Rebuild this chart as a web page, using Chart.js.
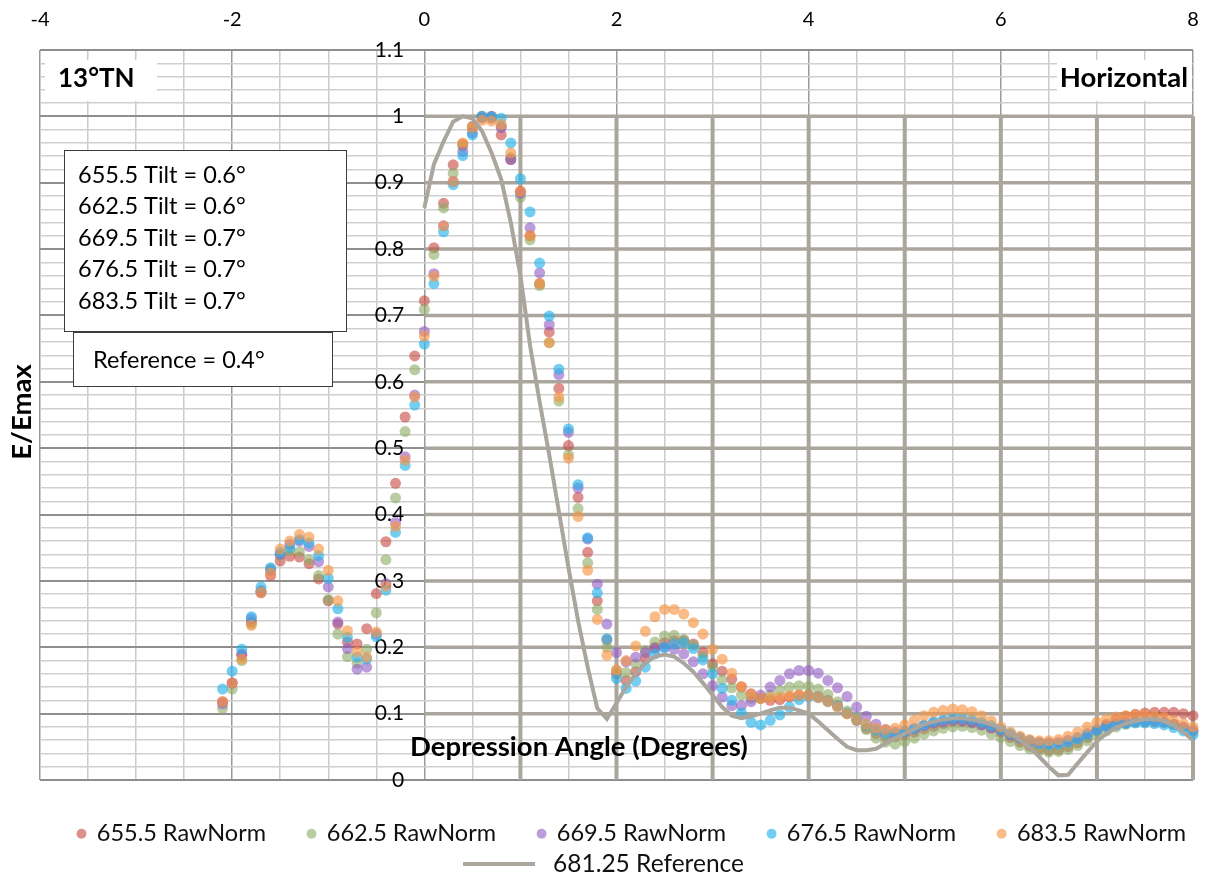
<!DOCTYPE html>
<html>
<head>
<meta charset="utf-8">
<title>13°TN Horizontal - E/Emax vs Depression Angle</title>
<script src="https://cdn.jsdelivr.net/npm/chart.js@4/dist/chart.umd.min.js"></script>
<style>
  html, body { margin: 0; padding: 0; background: #fff; }
</style>
</head>
<body>
<canvas id="chart" width="1208" height="878"></canvas>
<script>
// depression angles (degrees) of the measured points
const angles = [
  -2.1, -2.0, -1.9, -1.8, -1.7, -1.6, -1.5, -1.4, -1.3, -1.2, -1.1, -1.0, -0.9, -0.8, -0.7, -0.6, -0.5, -0.4, -0.3, -0.2, -0.1,
  0.0, 0.1, 0.2, 0.3, 0.4, 0.5, 0.6, 0.7, 0.8, 0.9,
  1.0, 1.1, 1.2, 1.3, 1.4, 1.5, 1.6, 1.7, 1.8, 1.9,
  2.0, 2.1, 2.2, 2.3, 2.4, 2.5, 2.6, 2.7, 2.8, 2.9,
  3.0, 3.1, 3.2, 3.3, 3.4, 3.5, 3.6, 3.7, 3.8, 3.9,
  4.0, 4.1, 4.2, 4.3, 4.4, 4.5, 4.6, 4.7, 4.8, 4.9,
  5.0, 5.1, 5.2, 5.3, 5.4, 5.5, 5.6, 5.7, 5.8, 5.9,
  6.0, 6.1, 6.2, 6.3, 6.4, 6.5, 6.6, 6.7, 6.8, 6.9,
  7.0, 7.1, 7.2, 7.3, 7.4, 7.5, 7.6, 7.7, 7.8, 7.9,
  8.0
];

const raw655 = [
  0.118, 0.146, 0.188, 0.238, 0.282, 0.308, 0.330, 0.337, 0.336, 0.326, 0.303, 0.270, 0.235, 0.208, 0.205, 0.228, 0.281, 0.359, 0.447, 0.547, 0.639,
  0.722, 0.802, 0.869, 0.927, 0.958, 0.985, 1.000, 0.997, 0.972, 0.935,
  0.887, 0.820, 0.748, 0.675, 0.590, 0.504, 0.426, 0.343, 0.270, 0.211,
  0.160, 0.150, 0.163, 0.183, 0.200, 0.207, 0.210, 0.210, 0.205, 0.192,
  0.175, 0.164, 0.152, 0.140, 0.130, 0.123, 0.120, 0.121, 0.125, 0.128,
  0.128, 0.126, 0.120, 0.112, 0.100, 0.090, 0.078, 0.070, 0.065, 0.065,
  0.068, 0.072, 0.077, 0.081, 0.085, 0.088, 0.088, 0.086, 0.083, 0.078,
  0.072, 0.064, 0.057, 0.051, 0.047, 0.045, 0.046, 0.050, 0.056, 0.064,
  0.074, 0.084, 0.091, 0.096, 0.099, 0.101, 0.102, 0.102, 0.102, 0.100,
  0.097
];

const raw662 = [
  0.108, 0.137, 0.180, 0.235, 0.284, 0.318, 0.338, 0.346, 0.344, 0.332, 0.308, 0.272, 0.220, 0.186, 0.176, 0.197, 0.252, 0.332, 0.425, 0.525, 0.618,
  0.709, 0.792, 0.862, 0.914, 0.955, 0.982, 0.998, 1.000, 0.985, 0.938,
  0.878, 0.814, 0.745, 0.659, 0.571, 0.490, 0.409, 0.327, 0.257, 0.200,
  0.165, 0.162, 0.175, 0.195, 0.208, 0.217, 0.218, 0.212, 0.203, 0.186,
  0.170, 0.151, 0.139, 0.128, 0.123, 0.123, 0.128, 0.135, 0.140, 0.142,
  0.141, 0.137, 0.129, 0.118, 0.104, 0.090, 0.076, 0.063, 0.057, 0.054,
  0.058, 0.063, 0.069, 0.074, 0.078, 0.080, 0.081, 0.079, 0.075, 0.069,
  0.064, 0.058, 0.052, 0.047, 0.044, 0.042, 0.043, 0.046, 0.052, 0.059,
  0.067, 0.074, 0.080, 0.084, 0.087, 0.088, 0.089, 0.087, 0.084, 0.079,
  0.073
];

const raw669 = [
  0.115, 0.146, 0.190, 0.243, 0.285, 0.316, 0.340, 0.355, 0.360, 0.352, 0.329, 0.291, 0.238, 0.198, 0.167, 0.170, 0.220, 0.296, 0.388, 0.487, 0.580,
  0.676, 0.763, 0.835, 0.902, 0.947, 0.975, 0.998, 1.000, 0.983, 0.935,
  0.884, 0.832, 0.764, 0.686, 0.611, 0.524, 0.440, 0.363, 0.295, 0.235,
  0.192, 0.178, 0.185, 0.192, 0.198, 0.200, 0.197, 0.190, 0.178, 0.160,
  0.142, 0.125, 0.112, 0.112, 0.118, 0.128, 0.140, 0.150, 0.160, 0.165,
  0.165, 0.161, 0.150, 0.139, 0.126, 0.110, 0.096, 0.084, 0.076, 0.072,
  0.073, 0.077, 0.082, 0.086, 0.088, 0.090, 0.089, 0.087, 0.083, 0.079,
  0.075, 0.068, 0.063, 0.059, 0.057, 0.056, 0.057, 0.060, 0.064, 0.070,
  0.076, 0.081, 0.084, 0.086, 0.088, 0.088, 0.088, 0.087, 0.084, 0.080,
  0.075
];

const raw676 = [
  0.137, 0.164, 0.197, 0.246, 0.291, 0.320, 0.343, 0.350, 0.362, 0.357, 0.338, 0.304, 0.258, 0.215, 0.185, 0.182, 0.216, 0.286, 0.373, 0.474, 0.565,
  0.657, 0.748, 0.826, 0.897, 0.941, 0.972, 1.000, 0.999, 0.997, 0.960,
  0.906, 0.856, 0.779, 0.699, 0.619, 0.529, 0.445, 0.365, 0.282, 0.213,
  0.153, 0.138, 0.149, 0.170, 0.190, 0.200, 0.205, 0.207, 0.198, 0.181,
  0.160, 0.138, 0.120, 0.101, 0.087, 0.083, 0.090, 0.098, 0.110, 0.121,
  0.126, 0.124, 0.118, 0.111, 0.101, 0.093, 0.083, 0.075, 0.070, 0.070,
  0.073, 0.078, 0.083, 0.088, 0.091, 0.093, 0.093, 0.091, 0.087, 0.082,
  0.076, 0.070, 0.064, 0.059, 0.055, 0.053, 0.054, 0.057, 0.062, 0.068,
  0.075, 0.080, 0.083, 0.085, 0.086, 0.086, 0.085, 0.083, 0.079, 0.074,
  0.068
];

const raw683 = [
  0.118, 0.146, 0.182, 0.233, 0.283, 0.312, 0.348, 0.360, 0.370, 0.366, 0.348, 0.316, 0.270, 0.225, 0.193, 0.185, 0.223, 0.292, 0.382, 0.482, 0.577,
  0.669, 0.759, 0.835, 0.902, 0.960, 0.983, 0.994, 0.993, 0.988, 0.945,
  0.887, 0.820, 0.748, 0.659, 0.577, 0.485, 0.397, 0.316, 0.242, 0.188,
  0.166, 0.180, 0.202, 0.224, 0.246, 0.257, 0.257, 0.250, 0.237, 0.220,
  0.197, 0.182, 0.161, 0.141, 0.128, 0.123, 0.124, 0.125, 0.127, 0.128,
  0.127, 0.124, 0.118, 0.110, 0.100, 0.092, 0.084, 0.078, 0.076, 0.078,
  0.083, 0.090, 0.097, 0.102, 0.105, 0.107, 0.106, 0.103, 0.097, 0.089,
  0.080, 0.072, 0.066, 0.061, 0.059, 0.059, 0.061, 0.066, 0.072, 0.080,
  0.087, 0.092, 0.095, 0.097, 0.098, 0.098, 0.096, 0.094, 0.090, 0.085,
  0.080
];

// reference curve, sampled from 0 to 8 degrees
const refAngles = [
  0.0, 0.1, 0.2, 0.3, 0.4, 0.5, 0.6, 0.7, 0.8, 0.9,
  1.0, 1.1, 1.2, 1.3, 1.4, 1.5, 1.6, 1.7, 1.8, 1.9,
  2.0, 2.1, 2.2, 2.3, 2.4, 2.5, 2.6, 2.7, 2.8, 2.9,
  3.0, 3.1, 3.2, 3.3, 3.4, 3.5, 3.6, 3.7, 3.8, 3.9,
  4.0, 4.1, 4.2, 4.3, 4.4, 4.5, 4.6, 4.7, 4.8, 4.9,
  5.0, 5.1, 5.2, 5.3, 5.4, 5.5, 5.6, 5.7, 5.8, 5.9,
  6.0, 6.1, 6.2, 6.3, 6.4, 6.5, 6.6, 6.7, 6.8, 6.9,
  7.0, 7.1, 7.2, 7.3, 7.4, 7.5, 7.6, 7.7, 7.8, 7.9,
  8.0
];
const ref681 = [
  0.862, 0.928, 0.962, 0.992, 1.000, 0.997, 0.978, 0.945, 0.905, 0.840,
  0.760, 0.655, 0.570, 0.490, 0.405, 0.320, 0.240, 0.170, 0.108, 0.092,
  0.116, 0.140, 0.160, 0.176, 0.186, 0.189, 0.186, 0.176, 0.163, 0.146,
  0.128, 0.110, 0.097, 0.093, 0.096, 0.100, 0.105, 0.109, 0.109, 0.105,
  0.100, 0.088, 0.075, 0.062, 0.050, 0.045, 0.045, 0.047, 0.055, 0.063,
  0.070, 0.077, 0.084, 0.088, 0.091, 0.093, 0.093, 0.091, 0.088, 0.084,
  0.079, 0.070, 0.060, 0.049, 0.035, 0.020, 0.007, 0.008, 0.025, 0.042,
  0.058, 0.070, 0.079, 0.085, 0.089, 0.092, 0.092, 0.089, 0.082, 0.072,
  0.060
];

const seriesNames = ['655.5 RawNorm', '662.5 RawNorm', '669.5 RawNorm', '676.5 RawNorm', '683.5 RawNorm'];
const refName = '681.25 Reference';
const tiltNotes = ['655.5 Tilt = 0.6°', '662.5 Tilt = 0.6°', '669.5 Tilt = 0.7°', '676.5 Tilt = 0.7°', '683.5 Tilt = 0.7°'];
const refNote = 'Reference = 0.4°';

const dotColors = [
  'rgba(200, 70, 65, 0.6)',
  'rgba(140, 170, 100, 0.6)',
  'rgba(145, 90, 195, 0.6)',
  'rgba(40, 180, 235, 0.65)',
  'rgba(247, 150, 70, 0.65)'
];
const refColor = '#aaa69d';
const FONT = 'Lato, "Noto Sans", sans-serif';

function pts(xs, ys) {
  return ys.map((v, i) => ({ x: xs[i], y: v }));
}

const rawSeries = [raw655, raw662, raw669, raw676, raw683];
const datasets = rawSeries.map((vals, i) => ({
  label: seriesNames[i],
  data: pts(angles, vals),
  backgroundColor: dotColors[i],
  borderWidth: 0,
  pointRadius: 5.5,
  pointHoverRadius: 5.5,
  pointStyle: 'circle',
  showLine: false,
  clip: false,
  order: 10 - i
}));
datasets.push({
  type: 'line',
  label: refName,
  data: pts(refAngles, ref681),
  borderColor: refColor,
  borderWidth: 4,
  pointRadius: 0,
  tension: 0,
  fill: false,
  order: 1
});

const near = (v, step) => Math.abs(v / step - Math.round(v / step)) < 1e-6;

// heavier grid lines over the main part of the plot
const heavyGrid = {
  id: 'heavyGrid',
  beforeDatasetsDraw(chart) {
    const { ctx, scales: { x, y } } = chart;
    ctx.save();
    ctx.strokeStyle = refColor;
    ctx.lineWidth = 3.5;
    for (let k = 1; k <= 10; k++) {
      const py = y.getPixelForValue(k / 10);
      ctx.beginPath();
      ctx.moveTo(x.getPixelForValue(0), py);
      ctx.lineTo(x.getPixelForValue(8), py);
      ctx.stroke();
    }
    ctx.lineWidth = 4;
    for (let k = 1; k <= 8; k++) {
      const px = x.getPixelForValue(k);
      ctx.beginPath();
      ctx.moveTo(px, y.getPixelForValue(1));
      ctx.lineTo(px, y.getPixelForValue(0));
      ctx.stroke();
    }
    ctx.restore();
  }
};

// fixed legend height, and keep the five dot entries on one row
const legendHeight = {
  id: 'legendHeight',
  beforeInit(chart) {
    const fit = chart.legend.fit;
    chart.legend.fit = function () {
      const mw = this.maxWidth;
      this.maxWidth = mw + 300;
      fit.call(this);
      this.maxWidth = mw;
      this.width = Math.min(this.width, mw);
      this.height = 98;
    };
  },
  afterLayout(chart) {
    chart.legend.left -= 4;
    chart.legend.right = chart.width + 300;
  }
};

// text boxes, axis titles and the reference legend entry
const notes = {
  id: 'notes',
  afterDraw(chart) {
    const ctx = chart.ctx;
    ctx.save();
    ctx.textBaseline = 'middle';

    // corner tags
    ctx.fillStyle = '#fff';
    ctx.fillRect(45, 60, 112, 41);
    ctx.fillRect(1057, 60, 135, 41);
    ctx.fillStyle = '#000';
    ctx.font = 'bold 26px ' + FONT;
    ctx.textAlign = 'left';
    ctx.fillText('13°TN', 58, 79);
    ctx.font = 'bold 27.5px ' + FONT;
    ctx.textAlign = 'right';
    ctx.fillText('Horizontal', 1188, 78);

    // tilt box
    ctx.fillStyle = '#fff';
    ctx.fillRect(64.5, 150.5, 282, 181);
    ctx.strokeStyle = '#3c3c3c';
    ctx.lineWidth = 1;
    ctx.strokeRect(64.5, 150.5, 282, 181);
    ctx.fillStyle = '#000';
    ctx.font = '23.5px ' + FONT;
    ctx.textAlign = 'left';
    tiltNotes.forEach((t, i) => ctx.fillText(t, 78, 175 + i * 31.5));

    // reference box
    ctx.fillStyle = '#fff';
    ctx.fillRect(73.5, 332.5, 259, 54);
    ctx.strokeRect(73.5, 332.5, 259, 54);
    ctx.fillStyle = '#000';
    ctx.fillText(refNote, 93, 360);

    // axis titles
    ctx.font = 'bold 27.5px ' + FONT;
    ctx.textAlign = 'center';
    ctx.fillText('Depression Angle (Degrees)', 579, 747);
    ctx.save();
    ctx.translate(22, 412);
    ctx.rotate(-Math.PI / 2);
    ctx.fillText('E/Emax', 0, 0);
    ctx.restore();

    // second legend row: reference line
    ctx.font = '24.5px ' + FONT;
    const x0 = 463;
    const ly = 864;
    ctx.strokeStyle = refColor;
    ctx.lineWidth = 4;
    ctx.beginPath();
    ctx.moveTo(x0, ly);
    ctx.lineTo(x0 + 72, ly);
    ctx.stroke();
    ctx.fillStyle = '#111';
    ctx.textAlign = 'left';
    ctx.fillText(refName, x0 + 90, ly);
    ctx.restore();
  }
};

Chart.defaults.font.family = FONT;

new Chart(document.getElementById('chart'), {
  type: 'scatter',
  data: { datasets },
  options: {
    responsive: false,
    animation: false,
    devicePixelRatio: 1,
    layout: { padding: { left: 40, right: 15, top: -10, bottom: 0 } },
    scales: {
      x: {
        type: 'linear',
        position: 'top',
        min: -4,
        max: 8,
        afterFit: s => { s.paddingRight = 0; },
        ticks: {
          stepSize: 0.5,
          autoSkip: false,
          maxRotation: 0,
          padding: 18,
          color: '#000',
          font: { size: 20 },
          callback: v => near(v, 2) ? String(Math.round(v)) : ''
        },
        grid: {
          drawTicks: false,
          lineWidth: 1.5,
          color: c => (c.tick && near(c.tick.value, 2)) ? '#9a9a9a' : '#cbcbcb'
        },
        border: { display: false }
      },
      y: {
        type: 'linear',
        position: { x: -0.21 },
        min: 0,
        max: 1.1,
        ticks: {
          stepSize: 0.02,
          autoSkip: false,
          padding: 0,
          color: '#000',
          font: { size: 21 },
          callback: v => near(v, 0.1) ? String(Math.round(v * 10) / 10) : ''
        },
        grid: {
          drawTicks: false,
          lineWidth: c => (c.tick && near(c.tick.value, 0.1)) ? 2 : 1.5,
          color: c => (c.tick && near(c.tick.value, 0.1)) ? '#8e8e8e' : '#cfcfcf'
        },
        border: { display: false }
      }
    },
    plugins: {
      legend: {
        position: 'bottom',
        align: 'start',
        labels: {
          usePointStyle: true,
          boxWidth: 7,
          boxHeight: 7,
          padding: 42,
          color: '#111',
          font: { size: 23.5 },
          filter: item => item.datasetIndex < 5,
          sort: (a, b) => a.datasetIndex - b.datasetIndex
        }
      },
      tooltip: { enabled: false }
    }
  },
  plugins: [heavyGrid, legendHeight, notes]
});
</script>
</body>
</html>
